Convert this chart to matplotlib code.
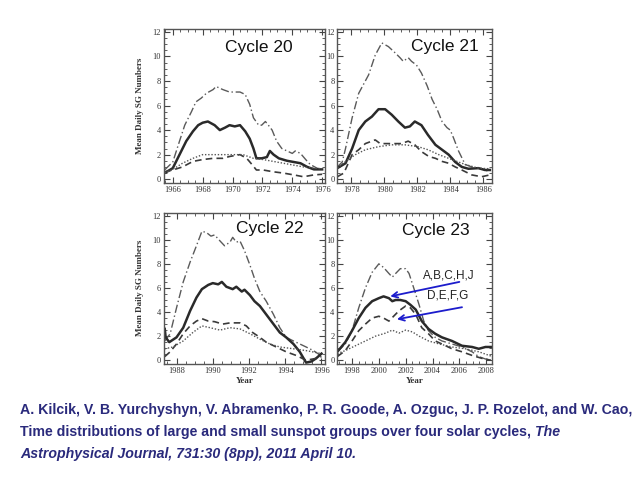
import matplotlib.pyplot as plt
import numpy as np
from matplotlib.ticker import MultipleLocator

# data: (year, mean daily SG number)
c20_dashdot = [(1965.45, 0.75), (1966.0, 1.4), (1966.45, 3.1), (1966.8, 4.4), (1967.25, 5.5), (1967.55, 6.3),
               (1967.9, 6.6), (1968.25, 7.0), (1968.7, 7.3), (1968.9, 7.55), (1969.35, 7.3), (1969.8, 7.1),
               (1970.5, 7.1), (1970.85, 6.9), (1971.15, 6.1), (1971.4, 5.0), (1971.75, 4.4), (1971.95, 4.4),
               (1972.2, 4.7), (1972.4, 4.4), (1972.65, 4.0), (1972.95, 3.1), (1973.3, 2.5), (1973.65, 2.3),
               (1974.0, 2.1), (1974.2, 2.3), (1974.55, 2.1), (1974.9, 1.6), (1975.2, 1.2), (1975.65, 0.9),
               (1976.0, 0.8)]
c20_solid = [(1965.45, 0.5), (1966.0, 0.9), (1966.45, 2.0), (1966.9, 3.1), (1967.35, 3.9), (1967.7, 4.4),
             (1968.0, 4.6), (1968.35, 4.7), (1968.8, 4.4), (1969.15, 4.0), (1969.5, 4.2), (1969.8, 4.4),
             (1970.15, 4.3), (1970.5, 4.4), (1970.85, 3.9), (1971.15, 3.3), (1971.4, 2.5), (1971.6, 1.7),
             (1971.95, 1.7), (1972.3, 1.8), (1972.5, 2.3), (1972.75, 2.0), (1973.1, 1.7), (1973.65, 1.5),
             (1974.1, 1.4), (1974.55, 1.3), (1975.0, 1.0), (1975.45, 0.8), (1976.0, 0.8)]
c20_dotted = [(1965.45, 0.5), (1966.0, 0.8), (1966.65, 1.3), (1967.35, 1.7), (1968.0, 2.0), (1968.9, 2.0),
              (1969.8, 2.0), (1970.7, 2.0), (1971.4, 1.7), (1972.05, 1.6), (1972.95, 1.4), (1973.85, 1.2),
              (1974.75, 1.0), (1975.45, 0.9), (1976.0, 0.85)]
c20_dashed = [(1965.45, 0.6), (1966.0, 0.75), (1966.65, 1.0), (1967.35, 1.45), (1968.0, 1.6), (1968.7, 1.7),
              (1969.35, 1.7), (1969.8, 1.85), (1970.5, 2.0), (1970.95, 1.7), (1971.3, 1.2), (1971.6, 0.75),
              (1972.05, 0.75), (1972.75, 0.6), (1973.4, 0.5), (1974.1, 0.35), (1974.75, 0.2), (1975.45, 0.35),
              (1976.0, 0.4)]

c21_dashdot = [(1977.15, 1.0), (1977.45, 1.4), (1977.65, 2.5), (1978.05, 5.0), (1978.45, 7.0), (1979.05, 8.5),
               (1979.45, 10.1), (1979.85, 11.1), (1980.25, 10.8), (1980.65, 10.3), (1980.95, 9.9), (1981.15, 9.6),
               (1981.45, 9.9), (1981.65, 9.6), (1981.95, 9.3), (1982.25, 8.65), (1982.6, 7.6), (1982.9, 6.5),
               (1983.2, 5.7), (1983.5, 4.7), (1983.8, 4.2), (1984.0, 4.0), (1984.2, 3.35), (1984.5, 2.3),
               (1984.9, 1.2), (1985.3, 1.0), (1985.9, 0.85), (1986.4, 0.6)]
c21_solid = [(1977.15, 0.9), (1977.65, 1.3), (1978.05, 2.5), (1978.45, 4.0), (1978.85, 4.7), (1979.25, 5.1),
             (1979.65, 5.7), (1980.05, 5.7), (1980.45, 5.25), (1980.85, 4.7), (1981.25, 4.2), (1981.55, 4.3),
             (1981.85, 4.7), (1982.25, 4.4), (1982.65, 3.6), (1983.1, 2.8), (1983.5, 2.4), (1983.9, 2.0),
             (1984.3, 1.4), (1984.7, 1.0), (1985.1, 0.85), (1985.7, 0.9), (1986.1, 0.75), (1986.4, 0.75)]
c21_dashed = [(1977.15, 0.2), (1977.55, 0.5), (1978.05, 2.0), (1978.45, 2.4), (1978.85, 2.9), (1979.25, 3.1),
              (1979.45, 3.2), (1979.75, 2.9), (1980.45, 2.9), (1981.05, 2.9), (1981.45, 3.1), (1981.85, 2.8),
              (1982.25, 2.25), (1982.7, 1.85), (1983.1, 1.7), (1983.5, 1.45), (1983.9, 1.3), (1984.3, 1.0),
              (1984.7, 0.75), (1985.3, 0.35), (1985.9, 0.2), (1986.4, 0.35)]
c21_dotted = [(1977.15, 0.9), (1977.65, 1.45), (1978.25, 2.0), (1978.85, 2.4), (1979.65, 2.65), (1980.45, 2.8),
              (1981.25, 2.8), (1982.05, 2.65), (1982.65, 2.4), (1983.3, 2.0), (1984.1, 1.6), (1984.9, 1.2),
              (1985.7, 0.9), (1986.4, 0.85)]

c22_dashdot = [(1987.35, 1.6), (1987.65, 2.2), (1988.0, 4.35), (1988.37, 6.5), (1988.75, 8.15), (1989.1, 9.5),
               (1989.4, 10.7), (1989.65, 10.6), (1989.9, 10.3), (1990.1, 10.4), (1990.4, 9.9), (1990.65, 9.5),
               (1990.95, 9.8), (1991.1, 10.2), (1991.3, 9.8), (1991.5, 9.9), (1991.75, 9.1), (1992.05, 7.9),
               (1992.3, 6.8), (1992.6, 5.7), (1992.95, 4.9), (1993.35, 3.8), (1993.7, 2.7), (1994.05, 1.9),
               (1994.45, 1.6), (1994.8, 1.35), (1995.15, 1.1), (1995.55, 0.8), (1995.8, 0.55), (1996.0, 0.3)]
c22_solid = [(1987.35, 2.6), (1987.4, 1.9), (1987.6, 1.5), (1988.0, 1.9), (1988.37, 2.7), (1988.75, 4.1),
             (1989.1, 5.2), (1989.4, 5.9), (1989.75, 6.25), (1990.0, 6.4), (1990.3, 6.3), (1990.5, 6.5),
             (1990.75, 6.1), (1991.1, 5.9), (1991.3, 6.1), (1991.6, 5.7), (1991.75, 5.85), (1992.05, 5.4),
             (1992.3, 4.9), (1992.6, 4.5), (1992.95, 3.8), (1993.35, 3.0), (1993.7, 2.3), (1994.05, 1.9),
             (1994.45, 1.35), (1994.8, 0.7), (1995.15, -0.2), (1995.45, -0.1), (1995.7, 0.15), (1996.0, 0.55)]
c22_dashed = [(1987.35, 0.3), (1987.65, 0.7), (1988.0, 1.35), (1988.37, 2.2), (1988.75, 2.85), (1989.1, 3.25),
              (1989.4, 3.45), (1989.75, 3.25), (1990.1, 3.2), (1990.55, 3.0), (1990.95, 3.1), (1991.5, 3.1),
              (1991.85, 2.85), (1992.2, 2.3), (1992.6, 1.9), (1992.95, 1.5), (1993.5, 1.1), (1994.05, 0.7),
              (1994.6, 0.4), (1995.15, 0.0), (1995.7, 0.15), (1996.0, 0.3)]
c22_dotted = [(1987.35, 0.95), (1987.8, 1.1), (1988.37, 1.6), (1988.9, 2.3), (1989.4, 2.85), (1989.85, 2.7),
              (1990.4, 2.5), (1990.95, 2.7), (1991.5, 2.6), (1992.05, 2.2), (1992.6, 1.75), (1993.15, 1.35),
              (1993.7, 1.1), (1994.45, 0.95), (1995.15, 0.8), (1996.0, 0.55)]

c23_dashdot = [(1996.9, 0.7), (1997.5, 1.35), (1998.0, 2.45), (1998.5, 4.35), (1999.0, 6.0), (1999.5, 7.3),
               (2000.0, 8.0), (2000.35, 7.7), (2000.75, 7.2), (2001.0, 6.9), (2001.25, 7.2), (2001.6, 7.6),
               (2002.0, 7.6), (2002.25, 7.2), (2002.6, 6.0), (2003.0, 4.6), (2003.35, 3.25), (2003.7, 2.45),
               (2004.2, 1.9), (2004.7, 1.6), (2005.45, 1.35), (2006.2, 1.1), (2006.95, 0.7), (2007.45, 0.3),
               (2007.95, 0.1), (2008.35, 0.0)]
c23_solid = [(1996.9, 0.7), (1997.5, 1.5), (1998.0, 2.45), (1998.5, 3.5), (1999.0, 4.35), (1999.5, 4.9),
             (2000.0, 5.15), (2000.35, 5.3), (2000.75, 5.15), (2001.0, 4.9), (2001.25, 5.0), (2001.6, 5.0),
             (2002.0, 4.9), (2002.35, 4.6), (2002.75, 4.2), (2003.2, 3.25), (2003.7, 2.6), (2004.2, 2.2),
             (2004.7, 1.9), (2005.45, 1.6), (2006.2, 1.2), (2006.95, 1.1), (2007.45, 0.95), (2007.95, 1.1),
             (2008.35, 1.1)]
c23_dashed = [(1996.9, 0.3), (1997.5, 0.8), (1998.0, 1.6), (1998.5, 2.45), (1999.0, 3.0), (1999.5, 3.5),
              (2000.0, 3.65), (2000.35, 3.5), (2000.75, 3.25), (2001.1, 3.65), (2001.5, 4.1), (2002.0, 4.5),
              (2002.35, 4.35), (2002.75, 3.8), (2003.2, 2.7), (2003.7, 2.2), (2004.2, 1.6), (2004.7, 1.35),
              (2005.45, 0.95), (2006.2, 0.7), (2006.95, 0.4), (2007.7, 0.15), (2008.35, 0.0)]
c23_dotted = [(1996.9, 0.55), (1997.5, 0.8), (1998.25, 1.2), (1999.0, 1.6), (1999.75, 2.0), (2000.5, 2.25),
              (2001.0, 2.5), (2001.5, 2.25), (2002.0, 2.5), (2002.5, 2.35), (2003.0, 2.0), (2003.7, 1.6),
              (2004.5, 1.35), (2005.45, 1.1), (2006.45, 0.95), (2007.45, 0.7), (2008.35, 0.35)]

cycle_names = ['Cycle 20', 'Cycle 21', 'Cycle 22', 'Cycle 23']
year_ticks = [[1966, 1968, 1970, 1972, 1974, 1976],
              [1978, 1980, 1982, 1984, 1986],
              [1988, 1990, 1992, 1994, 1996],
              [1998, 2000, 2002, 2004, 2006, 2008]]
year_limits = [(1965.4, 1976.2), (1977.15, 1986.5), (1987.3, 1996.2), (1996.9, 2008.4)]
group_labels = ['A,B,C,H,J', 'D,E,F,G']

series = [[c20_dashdot, c20_solid, c20_dashed, c20_dotted],
          [c21_dashdot, c21_solid, c21_dashed, c21_dotted],
          [c22_dashdot, c22_solid, c22_dashed, c22_dotted],
          [c23_dashdot, c23_solid, c23_dashed, c23_dotted]]

serif = 'Liberation Serif'
line_col = '#3a3a3a'
blue = '#1c1ccc'
navy = '#2a2a7c'

fig = plt.figure(figsize=(6.4, 4.8), dpi=100)
boxes = [[0.256, 0.619, 0.252, 0.321],
         [0.527, 0.619, 0.241, 0.321],
         [0.256, 0.242, 0.252, 0.315],
         [0.527, 0.242, 0.241, 0.315]]
title_pos = [(0.59, 0.877), (0.695, 0.886), (0.655, 0.894), (0.636, 0.885)]

axs = []
for i in range(4):
    ax = fig.add_axes(boxes[i])
    axs.append(ax)
    dd, so, da, do = [np.array(s) for s in series[i]]
    ax.plot(dd[:, 0], dd[:, 1], c='#5a5a5a', lw=1.0, dashes=(6, 2, 1, 2))
    ax.plot(so[:, 0], so[:, 1], c='#2a2a2a', lw=1.8)
    ax.plot(da[:, 0], da[:, 1], c=line_col, lw=1.2, dashes=(4, 2.5))
    ax.plot(do[:, 0], do[:, 1], c='#555555', lw=1.0, dashes=(1, 1.3))
    ax.set_xlim(*year_limits[i])
    ax.set_ylim(-0.3, 12.25)
    ax.set_xticks(year_ticks[i])
    ax.set_yticks([0, 2, 4, 6, 8, 10, 12])
    ax.xaxis.set_minor_locator(MultipleLocator(0.5))
    ax.yaxis.set_minor_locator(MultipleLocator(0.5))
    ax.tick_params(which='both', direction='in', top=True, right=True, color='#444444',
                   labelsize=6, pad=2, labelcolor='#333333')
    ax.tick_params(which='major', length=4)
    ax.tick_params(which='minor', length=2)
    for lab in ax.get_xticklabels() + ax.get_yticklabels():
        lab.set_family(serif)
    for sp in ax.spines.values():
        sp.set_color('#555555')
        sp.set_linewidth(1.0)
    ax.text(title_pos[i][0], title_pos[i][1], cycle_names[i], transform=ax.transAxes,
            ha='center', va='center', fontsize=12.5, family='Liberation Sans', color='#111111')
    if i % 2 == 0:
        ax.set_ylabel('Mean Daily SG Numbers', family=serif, fontsize=6.5, fontweight='bold',
                      color='#333333', labelpad=6)
    if i >= 2:
        ax.set_xlabel('Year', family=serif, fontsize=6.5, fontweight='bold', color='#333333', labelpad=2)

# arrows pointing at the two groups in cycle 23
ax = axs[3]
ax.text(2005.2, 7.05, group_labels[0], ha='center', va='center', fontsize=8.5, family='Liberation Sans', color='#222222')
ax.text(2005.1, 5.35, group_labels[1], ha='center', va='center', fontsize=8.5, family='Liberation Sans', color='#222222')
ax.annotate('', xy=(2000.85, 5.3), xytext=(2006.0, 6.5),
            arrowprops=dict(arrowstyle='->', color=blue, lw=1.3, shrinkA=0, shrinkB=0))
ax.annotate('', xy=(2001.35, 3.4), xytext=(2006.2, 4.4),
            arrowprops=dict(arrowstyle='->', color=blue, lw=1.3, shrinkA=0, shrinkB=0))

# citation under the figure
tax = fig.add_axes([0, 0, 1, 1])
tax.axis('off')
cite = dict(fontsize=10.2, family='Liberation Sans', fontweight='bold', color=navy)
tax.text(0.031, 1 - 410 / 480, 'A. Kilcik, V. B. Yurchyshyn, V. Abramenko, P. R. Goode, A. Ozguc, J. P. Rozelot, and W. Cao,',
         va='center', **cite)
t2 = tax.text(0.031, 1 - 432 / 480, 'Time distributions of large and small sunspot groups over four solar cycles, ',
              va='center', **cite)
tax.annotate('The', xy=(1, 0), xycoords=t2, ha='left', va='bottom', style='italic', **cite)
tax.text(0.031, 1 - 454 / 480, 'Astrophysical Journal, 731:30 (8pp), 2011 April 10.',
         va='center', style='italic', **cite)

plt.savefig('out.png', dpi=100)
